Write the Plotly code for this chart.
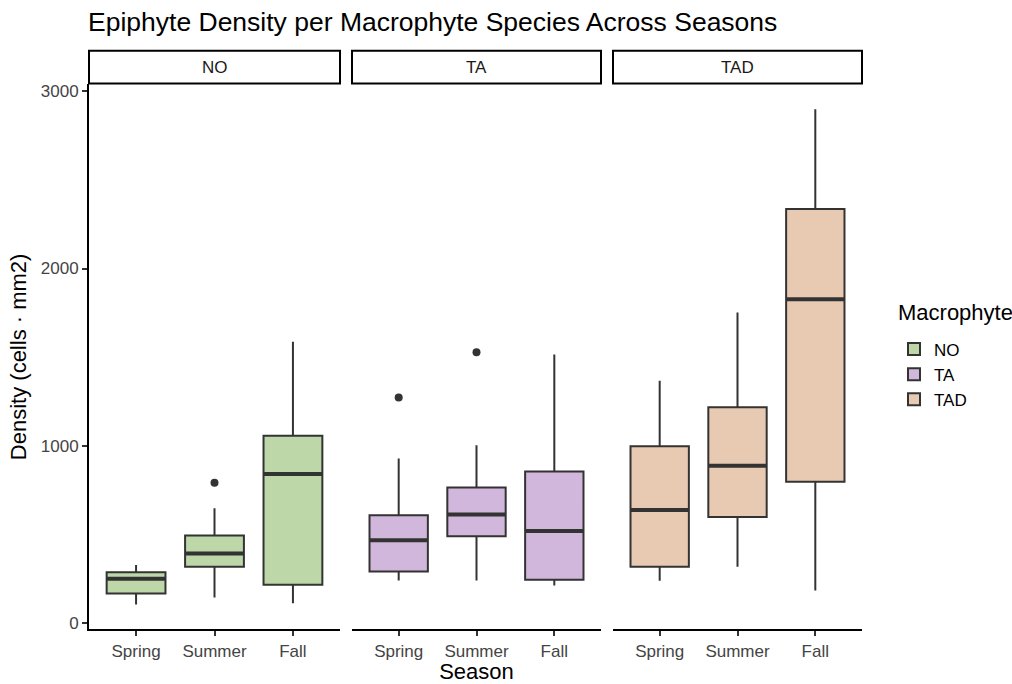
import plotly.graph_objects as go

# ---- data -------------------------------------------------------------
seasons = ["Spring", "Summer", "Fall"]
macrophytes = ["NO", "TA", "TAD"]

lower_fence = {"NO": [102, 142, 110], "TA": [238, 238, 210], "TAD": [236, 316, 182]}
q1_vals = {"NO": [164, 316, 214], "TA": [289, 488, 242], "TAD": [316, 596, 796]}
median_vals = {"NO": [248, 390, 840], "TA": [465, 611, 518], "TAD": [636, 886, 1826]}
q3_vals = {"NO": [284, 492, 1056], "TA": [607, 764, 853], "TAD": [996, 1216, 2336]}
upper_fence = {"NO": [326, 646, 1586], "TA": [927, 1002, 1514], "TAD": [1366, 1752, 2900]}

outlier_group = ["NO", "TA", "TA"]
outlier_season = ["Summer", "Spring", "Summer"]
outlier_value = [790, 1272, 1527]

fill_colors = {"NO": "#BDD7A9", "TA": "#D1B7DB", "TAD": "#E8CAB3"}
outline = "#333333"

# ---- geometry (pixels of the 1012x684 canvas) ------------------------
W, H = 1012, 684
panel_px = [(89, 340), (352, 601), (613, 862)]
plot_top_px, plot_bot_px = 83, 632
strip_top_px, strip_bot_px = 49, 82
box_width = 0.75

ydom = [(H - plot_bot_px) / H, (H - plot_top_px) / H]

fig = go.Figure()

for i, m in enumerate(macrophytes):
    xa = "x" if i == 0 else f"x{i + 1}"
    pos = list(range(1, len(seasons) + 1))
    fig.add_trace(go.Box(
        x=pos,
        q1=q1_vals[m], median=median_vals[m], q3=q3_vals[m],
        lowerfence=lower_fence[m], upperfence=upper_fence[m],
        width=box_width, whiskerwidth=0, boxpoints=False,
        fillcolor=fill_colors[m], line=dict(color=outline, width=2),
        name=m, legendgroup=m, showlegend=True,
        xaxis=xa, yaxis="y", hoverinfo="skip",
    ))
    # thicker median bar, as ggplot draws it
    mx, my = [], []
    for p, med in zip(pos, median_vals[m]):
        mx += [p - box_width / 2, p + box_width / 2, None]
        my += [med, med, None]
    fig.add_trace(go.Scatter(
        x=mx, y=my, mode="lines", line=dict(color=outline, width=4),
        showlegend=False, xaxis=xa, yaxis="y", hoverinfo="skip",
    ))
    # outlying points
    ox = [seasons.index(s) + 1 for g, s in zip(outlier_group, outlier_season) if g == m]
    oy = [v for g, v in zip(outlier_group, outlier_value) if g == m]
    if ox:
        fig.add_trace(go.Scatter(
            x=ox, y=oy, mode="markers",
            marker=dict(color=outline, size=8),
            showlegend=False, xaxis=xa, yaxis="y", hoverinfo="skip",
        ))

font_family = "Liberation Sans, Arial, sans-serif"
tick_font = dict(family=font_family, size=17, color="#444444")

layout = dict(
    width=W, height=H,
    margin=dict(l=0, r=0, t=0, b=0),
    paper_bgcolor="white", plot_bgcolor="white",
    font=dict(family=font_family, color="black"),
    title=dict(
        text="Epiphyte Density per Macrophyte Species Across Seasons",
        x=88 / W, xanchor="left", y=1 - 22 / H, yanchor="middle",
        font=dict(size=26.5, color="black", family=font_family),
    ),
    yaxis=dict(
        domain=ydom, range=[-38, 3040], anchor="x",
        tickvals=[0, 1000, 2000, 3000], ticktext=["0", "1000", "2000", "3000"],
        showline=True, linecolor="black", linewidth=2,
        ticks="outside", ticklen=5, tickwidth=1.6, tickcolor="#333333",
        showgrid=False, zeroline=False, tickfont=tick_font,
        title=dict(text="Density (cells · mm2)", font=dict(size=22, family=font_family),
                   standoff=8),
    ),
    legend=dict(
        x=894 / W, xanchor="left", y=1 - 332 / H, yanchor="top",
        font=dict(size=17, family=font_family, color="black"),
        tracegroupgap=0, bgcolor="rgba(0,0,0,0)",
    ),
    showlegend=True,
)

for i, (x0, x1) in enumerate(panel_px):
    key = "xaxis" if i == 0 else f"xaxis{i + 1}"
    layout[key] = dict(
        domain=[x0 / W, x1 / W], range=[0.4, 3.6], anchor="y",
        tickvals=[1, 2, 3], ticktext=seasons,
        showline=True, linecolor="black", linewidth=2,
        ticks="outside", ticklen=5, tickwidth=1.6, tickcolor="#333333",
        showgrid=False, zeroline=False, tickfont=tick_font,
    )
layout["xaxis2"]["title"] = dict(text="Season", font=dict(size=22, family=font_family),
                                 standoff=4)

fig.update_layout(**layout)

# legend heading
fig.add_annotation(text="Macrophyte", xref="paper", yref="paper",
                   x=896 / W, y=1 - 313 / H, xanchor="left", yanchor="middle",
                   showarrow=False, font=dict(size=22, color="black", family=font_family))

# facet strips
for m, (x0, x1) in zip(macrophytes, panel_px):
    fig.add_shape(type="rect", xref="paper", yref="paper",
                  x0=x0 / W, x1=x1 / W,
                  y0=1 - strip_bot_px / H, y1=1 - strip_top_px / H,
                  line=dict(color="black", width=2), fillcolor="white")
    fig.add_annotation(text=m, xref="paper", yref="paper",
                       x=(x0 + x1) / 2 / W, y=1 - (strip_top_px + strip_bot_px) / 2 / H,
                       showarrow=False, xanchor="center", yanchor="middle",
                       font=dict(size=17, color="#1A1A1A", family=font_family))

fig.write_html("out.html")
